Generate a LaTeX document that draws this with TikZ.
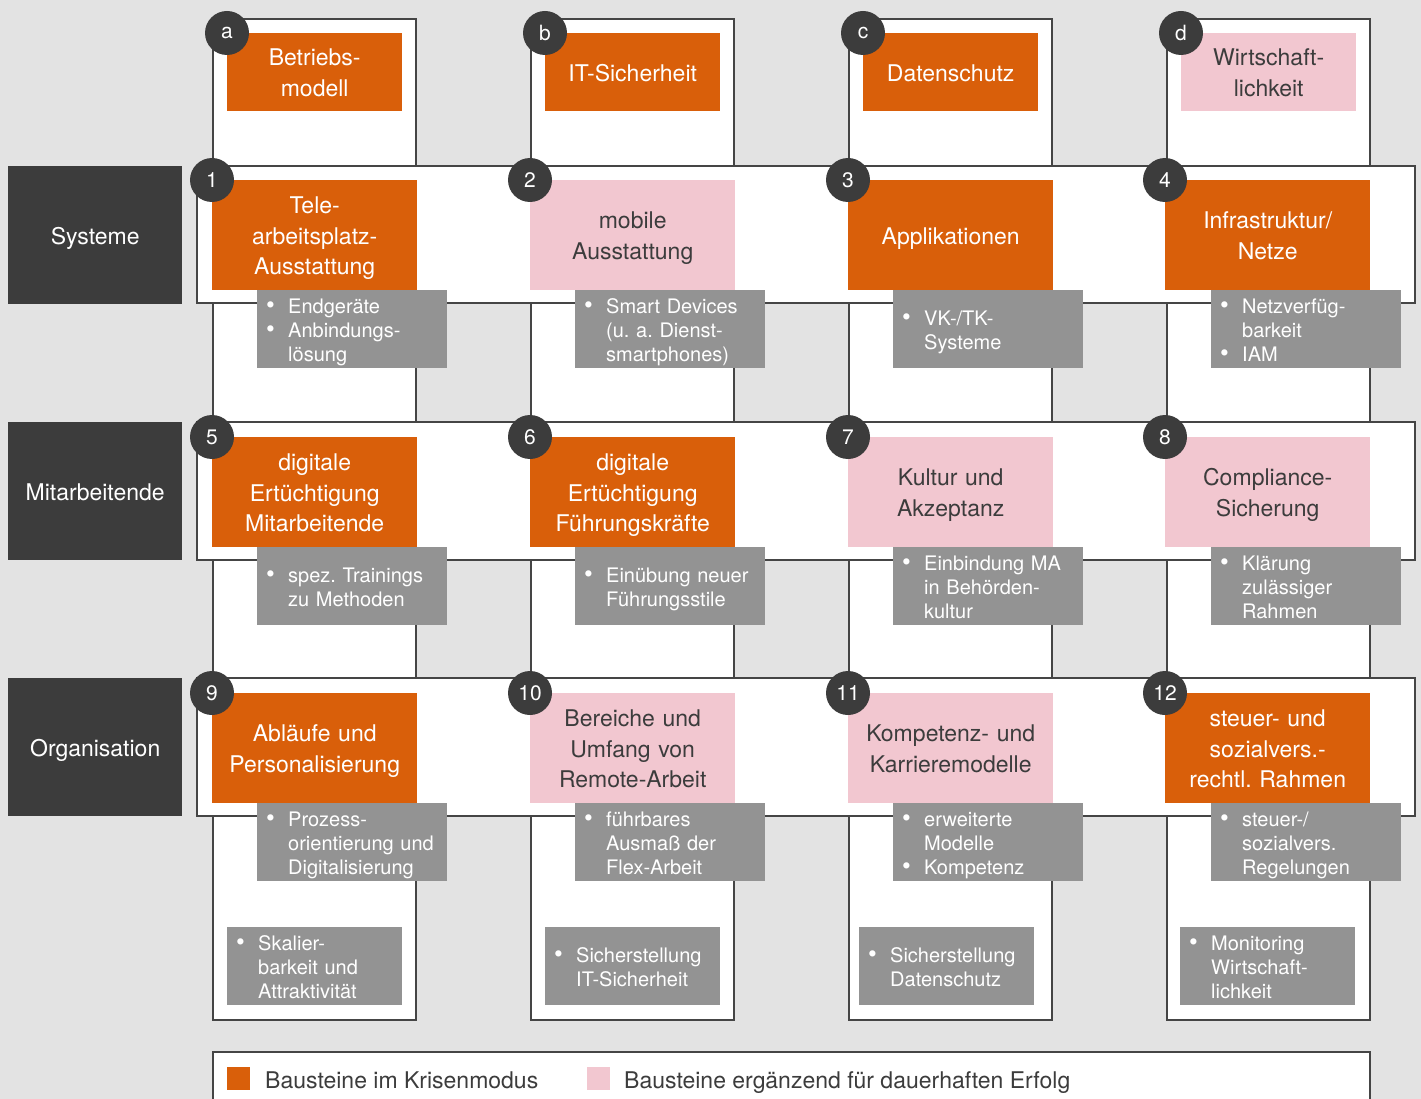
\documentclass[tikz,border=0pt]{standalone}
\usepackage{fontspec}
\setmainfont{TeX Gyre Heros}
\frenchspacing

\definecolor{bg}{HTML}{E3E3E3}
\definecolor{krise}{HTML}{D95F0A}
\definecolor{dauer}{HTML}{F2C7D0}
\definecolor{detail}{HTML}{939393}
\definecolor{dunkel}{HTML}{3C3C3C}
\definecolor{rahmen}{HTML}{454545}

% bullet item and continuation line inside the grey detail boxes
\newcommand\itm{\makebox[31pt][l]{\hspace{9pt}\scalebox{1.25}{\textbullet}}}
\newcommand\cnt{\makebox[31pt]{}}
% fixed top height / bottom depth so every text block sits the same way
\newcommand\topstrut[1]{\rule{0pt}{#1}}
\newcommand\botstrut[1]{\rule[-#1]{0pt}{0pt}}

\tikzset{
  frame/.style={draw=rahmen, line width=2pt, fill=white},
  bigtext/.style={font=\fontsize{23}{30.5}\selectfont,
    execute at begin node=\topstrut{23pt}, execute at end node=\botstrut{5pt}},
  smalltext/.style={font=\fontsize{20}{24}\selectfont,
    execute at begin node=\topstrut{20pt}, execute at end node=\botstrut{4pt}},
  rowlabel/.style={bigtext, anchor=north west, fill=dunkel, text=white, inner sep=0pt,
    minimum width=174pt, minimum height=138pt},
  blockbase/.style={bigtext, anchor=north west, inner sep=0pt, align=center},
  crisis/.style={fill=krise, text=white},
  lasting/.style={fill=dauer, text=dunkel},
  headbox/.style={blockbase, text width=175pt, minimum height=78pt},
  block/.style={blockbase, text width=205pt, minimum height=110pt},
  badge/.style={circle, fill=dunkel, text=white, minimum size=44pt, inner sep=0pt,
    font=\fontsize{21}{21}\selectfont},
  detailbox/.style={smalltext, anchor=north west, fill=detail, text=white, inner xsep=0pt,
    inner ysep=0pt, text width=190pt, minimum height=78pt, align=left},
  footbox/.style={detailbox, text width=175pt},
  legendkey/.style={anchor=north west, minimum size=23pt, inner sep=0pt},
  legendtext/.style={bigtext, anchor=west, text=dunkel, inner sep=0pt},
}

\begin{document}
\begin{tikzpicture}[x=1pt, y=-1pt]
  \useasboundingbox (0,0) rectangle (1421,1099);
  \fill[bg] (0,0) rectangle (1421,1099);

  % column frames
  \draw[frame] (213,19) rectangle (416,1020);
  \draw[frame] (531,19) rectangle (734,1020);
  \draw[frame] (849,19) rectangle (1052,1020);
  \draw[frame] (1167,19) rectangle (1370,1020);

  % legend frame
  \draw[frame] (213,1052) rectangle (1370,1110);

  % row bands
  \draw[frame] (197,166) rectangle (1415,303);
  \draw[frame] (197,422) rectangle (1415,560);
  \draw[frame] (197,678) rectangle (1415,816);

  % row labels
  \node[rowlabel] (r1) at (8,166) {Systeme};
  \node[rowlabel] (r2) at (8,422) {Mitarbeitende};
  \node[rowlabel] (r3) at (8,678) {Organisation};

  % column headers
  \node[headbox, crisis] (ha) at (227,33) {Betriebs-\\modell};
  \node[headbox, crisis] (hb) at (545,33) {IT-Sicherheit};
  \node[headbox, crisis] (hc) at (863,33) {Datenschutz};
  \node[headbox, lasting] (hd) at (1181,33) {Wirtschaft-\\lichkeit};
  \node[badge] (ba) at (ha.north west) {a};
  \node[badge] (bb) at (hb.north west) {b};
  \node[badge] (bc) at (hc.north west) {c};
  \node[badge] (bd) at (hd.north west) {d};

  % building blocks: systems
  \node[block, crisis] (k1) at (212,180) {Tele-\\arbeitsplatz-\\Ausstattung};
  \node[block, lasting] (k2) at (530,180) {mobile\\Ausstattung};
  \node[block, crisis] (k3) at (848,180) {Applikationen};
  \node[block, crisis] (k4) at (1165,180) {Infrastruktur/\\Netze};
  % building blocks: staff
  \node[block, crisis] (k5) at (212,437) {digitale\\Ertüchtigung\\Mitarbeitende};
  \node[block, crisis] (k6) at (530,437) {digitale\\Ertüchtigung\\Führungskräfte};
  \node[block, lasting] (k7) at (848,437) {Kultur und\\Akzeptanz};
  \node[block, lasting] (k8) at (1165,437) {Compliance-\\Sicherung};
  % building blocks: organisation
  \node[block, crisis] (k9) at (212,693) {Abläufe und\\Personalisierung};
  \node[block, lasting] (k10) at (530,693) {Bereiche und\\Umfang von\\Remote-Arbeit};
  \node[block, lasting] (k11) at (848,693) {Kompetenz- und\\Karrieremodelle};
  \node[block, crisis] (k12) at (1165,693) {steuer- und\\sozialvers.-\\rechtl. Rahmen};

  % details below each block
  \node[detailbox] (d1) at (257,290) {\itm Endgeräte\\\itm Anbindungs-\\\cnt lösung};
  \node[detailbox] (d2) at (575,290) {\itm Smart Devices\\\cnt (u. a. Dienst-\\\cnt smartphones)};
  \node[detailbox] (d3) at (893,290) {\itm VK-/TK-\\\cnt Systeme};
  \node[detailbox] (d4) at (1211,290) {\itm Netzverfüg-\\\cnt barkeit\\\itm IAM};
  \node[detailbox] (d5) at (257,547) {\itm spez. Trainings\\\cnt zu Methoden};
  \node[detailbox] (d6) at (575,547) {\itm Einübung neuer\\\cnt Führungsstile};
  \node[detailbox] (d7) at (893,547) {\itm Einbindung MA\\\cnt in Behörden-\\\cnt kultur};
  \node[detailbox] (d8) at (1211,547) {\itm Klärung\\\cnt zulässiger\\\cnt Rahmen};
  \node[detailbox] (d9) at (257,803) {\itm Prozess-\\\cnt orientierung und\\\cnt Digitalisierung};
  \node[detailbox] (d10) at (575,803) {\itm führbares\\\cnt Ausmaß der\\\cnt Flex-Arbeit};
  \node[detailbox] (d11) at (893,803) {\itm erweiterte\\\cnt Modelle\\\itm Kompetenz};
  \node[detailbox] (d12) at (1211,803) {\itm steuer-/\\\cnt sozialvers.\\\cnt Regelungen};

  % column results at the bottom
  \node[footbox] (fa) at (227,927) {\itm Skalier-\\\cnt barkeit und\\\cnt Attraktivität};
  \node[footbox] (fb) at (545,927) {\itm Sicherstellung\\\cnt IT-Sicherheit};
  \node[footbox] (fc) at (859,927) {\itm Sicherstellung\\\cnt Datenschutz};
  \node[footbox] (fd) at (1180,927) {\itm Monitoring\\\cnt Wirtschaft-\\\cnt lichkeit};

  % number badges
  \foreach \i in {1,...,12} {
    \node[badge] (n\i) at (k\i.north west) {\i};
  }

  % legend
  \node[legendkey, fill=krise] (lk1) at (227,1067) {};
  \node[legendtext] (lt1) at (265,1079) {Bausteine im Krisenmodus};
  \node[legendkey, fill=dauer] (lk2) at (587,1067) {};
  \node[legendtext] (lt2) at (624,1079) {Bausteine ergänzend für dauerhaften Erfolg};
\end{tikzpicture}
\end{document}
